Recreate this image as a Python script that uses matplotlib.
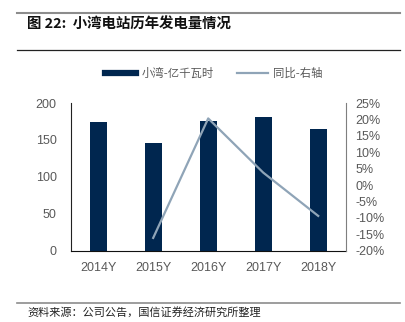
import matplotlib
matplotlib.use("Agg")
import matplotlib.pyplot as plt
from matplotlib.lines import Line2D

plt.rcParams['font.family'] = ['Liberation Sans', 'Noto Sans CJK SC', 'DejaVu Sans']

# données
annees = ["2014Y", "2015Y", "2016Y", "2017Y", "2018Y"]
production = [174.3, 146.2, 175.2, 181.4, 164.4]   # 亿千瓦时
tx_annees = ["2015Y", "2016Y", "2017Y", "2018Y"]
croissance = [-16.1, 20.3, 3.8, -9.4]              # %

bleu = "#00264F"
gris_ligne = "#8FA4B7"
gris_txt = "#595959"

W, H = 405, 322
fig = plt.figure(figsize=(W/100, H/100), dpi=100)

# zone du graphe, en pixels
ax = fig.add_axes([70.7/W, 1-250.7/H, 275/W, 147.7/H])
x = list(range(len(annees)))
ax.bar(x, production, width=0.315, color=bleu, zorder=2)
ax.set_xlim(-0.5, 4.5)
ax.set_ylim(0, 200)
ax.set_yticks([0, 50, 100, 150, 200])
ax.set_xticks(x)
ax.set_xticklabels(annees)
ax.tick_params(axis='y', length=0, pad=10, labelcolor=gris_txt, labelsize=9)
ax.tick_params(axis='x', length=0, pad=8, labelcolor=gris_txt, labelsize=9)
ax.spines['top'].set_visible(False)
ax.spines['right'].set_visible(False)
ax.spines['left'].set_color('#222222')
ax.spines['bottom'].set_color('#111111')

ax2 = ax.twinx()
xl = [annees.index(a) for a in tx_annees]
ax2.plot(xl, croissance, color=gris_ligne, lw=1.6, zorder=3)
ax2.set_ylim(-20, 25)
ax2.set_yticks(range(-20, 26, 5))
ax2.set_yticklabels([f"{v}%" for v in range(-20, 26, 5)])
ax2.tick_params(axis='y', length=0, pad=7, labelcolor=gris_txt, labelsize=9)
for s in ['top', 'left', 'bottom']:
    ax2.spines[s].set_visible(False)
ax2.spines['right'].set_color('#7f7f7f')

# légende
poignees = [Line2D([], [], color=bleu, lw=4.5),
            Line2D([], [], color=gris_ligne, lw=1.6)]
fig.legend(poignees, ["小湾-亿千瓦时", "同比-右轴"], loc='center',
           bbox_to_anchor=(214/W, 1-73.5/H), ncol=2, frameon=False,
           prop={'family': ['Noto Sans CJK SC'], 'size': 8.2},
           labelcolor=gris_txt, handlelength=2.7, handletextpad=0.5,
           columnspacing=2.0)

# titre et traits
fig.add_artist(Line2D([17/W, 400/W], [1-12.7/H]*2, color='#8c8c8c', lw=1.5))
fig.add_artist(Line2D([17/W, 400/W], [1-50/H]*2, color='#222222', lw=0.9))
fig.text(27/W, 1-25/H, "图 22:  小湾电站历年发电量情况", fontsize=10.4,
         fontweight='bold', va='center', ha='left',
         family=['Noto Sans CJK SC', 'DejaVu Sans'], color='#111111')

fig.add_artist(Line2D([17/W, 400/W], [1-302.7/H]*2, color='#8c8c8c', lw=1.2))
fig.text(27/W, 1-312/H, "资料来源：公司公告，国信证券经济研究所整理", fontsize=8.0,
         va='center', ha='left', family=['Noto Sans CJK SC', 'DejaVu Sans'],
         color='#222222')

fig.savefig("out.png", dpi=100)
